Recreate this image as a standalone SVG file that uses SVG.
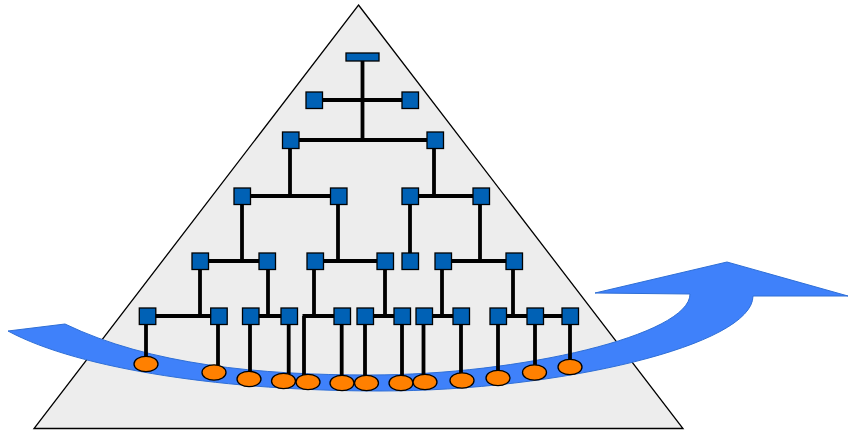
<svg xmlns="http://www.w3.org/2000/svg" width="848" height="432" viewBox="0 0 848 432">
<style>
.sq{fill:#0061B5;stroke:#000;stroke-width:1.3}
.el{fill:#FF8000;stroke:#000;stroke-width:1.3}
.ln{fill:none;stroke:#000;stroke-width:3.8;stroke-linecap:butt;stroke-linejoin:miter}
</style>
<g id="pyramid">
<polygon points="358.5,5 683,428.5 34,428.5" fill="#EDEDED" stroke="#000" stroke-width="1.3"/>
</g>
<g id="arrow">
<path d="M8,331 L65,324 C150,365 260,375 370,375 C520,375 690,335 690,294 L595,293 L727,262 L848,296 L753,296 C753,345 560,391 380,391 C230,391 80,370 8,331 Z" fill="#3F81FA" stroke="#2F6FD6" stroke-width="1"/>
</g>
<g id="connectors" class="ln">
<path d="M362.5,61 V140 M314,100 H410 M290,140 H435"/>
<path d="M290,140 V196 M242,196 H339 M434,140 V196 M410,196 H481"/>
<path d="M242,196 V261 M200,261 H267 M338,196 V261 M315,261 H385 M410,196 V261 M480,196 V261 M443,261 H514"/>
<path d="M200,261 V316 M147,316 H219 M268,261 V316 M251,316 H289 M314,261 V316 M302.5,316 H342 M304,316 V375 M385,261 V316 M365,316 H402 M442,261 V316 M424,316 H461 M513,261 V316 M498,316 H570"/>
<path d="M146,316 V357 M218,316 V365 M250,316 V372 M288.7,316 V374 M341.7,316 V376 M365,316 V376 M402,316 V376 M423.5,316 V375 M461,316 V374 M498,316 V371 M535,316 V365 M570,316 V360"/>
</g>
<g id="root"><rect class="sq" x="346" y="53" width="33" height="8"/></g>
<g id="n1a"><rect class="sq" x="306" y="92" width="16.5" height="16.5"/></g>
<g id="n1b"><rect class="sq" x="402" y="92" width="16.5" height="16.5"/></g>
<g id="n2a"><rect class="sq" x="282.5" y="132" width="16.5" height="16.5"/></g>
<g id="n2b"><rect class="sq" x="427" y="132" width="16.5" height="16.5"/></g>
<g id="n3a"><rect class="sq" x="234" y="188" width="16.5" height="16.5"/></g>
<g id="n3b"><rect class="sq" x="330.5" y="188" width="16.5" height="16.5"/></g>
<g id="n3c"><rect class="sq" x="402" y="188" width="16.5" height="16.5"/></g>
<g id="n3d"><rect class="sq" x="473" y="188" width="16.5" height="16.5"/></g>
<g id="n4a"><rect class="sq" x="192" y="253" width="16.5" height="16.5"/></g>
<g id="n4b"><rect class="sq" x="259" y="253" width="16.5" height="16.5"/></g>
<g id="n4c"><rect class="sq" x="307" y="253" width="16.5" height="16.5"/></g>
<g id="n4d"><rect class="sq" x="377" y="253" width="16.5" height="16.5"/></g>
<g id="n4e"><rect class="sq" x="402" y="253" width="16.5" height="16.5"/></g>
<g id="n4f"><rect class="sq" x="435" y="253" width="16.5" height="16.5"/></g>
<g id="n4g"><rect class="sq" x="506" y="253" width="16.5" height="16.5"/></g>
<g id="n5a"><rect class="sq" x="139.3" y="308" width="16.5" height="16.5"/></g>
<g id="n5b"><rect class="sq" x="210.7" y="308" width="16.5" height="16.5"/></g>
<g id="n5c"><rect class="sq" x="242.5" y="308" width="16.5" height="16.5"/></g>
<g id="n5d"><rect class="sq" x="281" y="308" width="16.5" height="16.5"/></g>
<g id="n5e"><rect class="sq" x="334" y="308" width="16.5" height="16.5"/></g>
<g id="n5f"><rect class="sq" x="357" y="308" width="16.5" height="16.5"/></g>
<g id="n5g"><rect class="sq" x="394" y="308" width="16.5" height="16.5"/></g>
<g id="n5h"><rect class="sq" x="416" y="308" width="16.5" height="16.5"/></g>
<g id="n5i"><rect class="sq" x="453" y="308" width="16.5" height="16.5"/></g>
<g id="n5j"><rect class="sq" x="490" y="308" width="16.5" height="16.5"/></g>
<g id="n5k"><rect class="sq" x="527" y="308" width="16.5" height="16.5"/></g>
<g id="n5l"><rect class="sq" x="562" y="308" width="16.5" height="16.5"/></g>
<g id="e1"><ellipse class="el" cx="146" cy="364" rx="12" ry="7.7"/></g>
<g id="e2"><ellipse class="el" cx="214" cy="372.5" rx="12" ry="7.7"/></g>
<g id="e3"><ellipse class="el" cx="249" cy="379" rx="12" ry="7.7"/></g>
<g id="e4"><ellipse class="el" cx="283.5" cy="381" rx="12" ry="7.7"/></g>
<g id="e5"><ellipse class="el" cx="308" cy="382" rx="12" ry="7.7"/></g>
<g id="e6"><ellipse class="el" cx="342" cy="383" rx="12" ry="7.7"/></g>
<g id="e7"><ellipse class="el" cx="366.5" cy="383" rx="12" ry="7.7"/></g>
<g id="e8"><ellipse class="el" cx="401" cy="383" rx="12" ry="7.7"/></g>
<g id="e9"><ellipse class="el" cx="425" cy="382" rx="12" ry="7.7"/></g>
<g id="e10"><ellipse class="el" cx="462" cy="380.5" rx="12" ry="7.7"/></g>
<g id="e11"><ellipse class="el" cx="498" cy="378" rx="12" ry="7.7"/></g>
<g id="e12"><ellipse class="el" cx="534.5" cy="372.5" rx="12" ry="7.7"/></g>
<g id="e13"><ellipse class="el" cx="570" cy="367" rx="12" ry="7.7"/></g>
</svg>
